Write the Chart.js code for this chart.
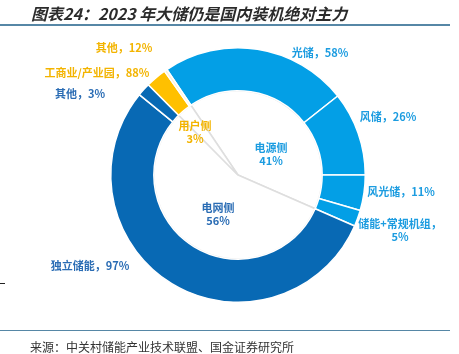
<!DOCTYPE html>
<html>
<head>
<meta charset="utf-8">
<script src="https://cdn.jsdelivr.net/npm/chart.js@4/dist/chart.umd.min.js"></script>
<style>
  body { margin: 0; background: #fff; }
  #wrap { position: relative; width: 459px; height: 354px; overflow: hidden; font-family: "Noto Sans CJK SC", sans-serif; }
  #title { position: absolute; left: 31px; top: 1px; font-size: 16px; font-weight: bold; font-style: italic; color: #2b2b2b; white-space: nowrap; }
  #topline { position: absolute; left: 0; top: 24px; width: 450px; height: 2px; background: #5687a6; }
  #botline { position: absolute; left: 0; top: 330px; width: 450px; height: 1px; background: #5687a6; }
  #source { position: absolute; left: 30px; top: 338px; font-size: 12px; color: #333; white-space: nowrap; }
  #tick { position: absolute; left: 0; top: 283px; width: 5px; height: 1px; background: #222; }
  #c { position: absolute; left: 0; top: 0; }
</style>
</head>
<body>
<div id="wrap">
  <canvas id="c" width="459" height="354"></canvas>
  <div id="title">图表24：2023 年大储仍是国内装机绝对主力</div>
  <div id="topline"></div>
  <div id="botline"></div>
  <div id="tick"></div>
  <div id="source">来源：中关村储能产业技术联盟、国金证券研究所</div>
</div>
<script>
// 内圈：三大应用场景占比（%）
const sides = ['电源侧', '电网侧', '用户侧'];
const sideShare = [41, 56, 3];

// 外圈：各场景内部构成（%）
const subNames = ['光储', '风储', '风光储', '储能+常规机组', '独立储能', '其他', '工商业/产业园', '其他'];
const subShare = [58, 26, 11, 5, 97, 3, 88, 12];
const subParent = [0, 0, 0, 0, 1, 1, 2, 2];

// 外圈扇区实际大小 = 父类占比 × 子类占比
const outerValues = subShare.map((v, i) => sideShare[subParent[i]] * v / 100);

const light = '#039fe6', dark = '#0869b4', gold = '#ffc000';
const outerColors = [light, light, light, light, dark, dark, gold, '#fbf1d2'];
const txtLight = '#1c9ce0', txtDark = '#2a6cb4', txtGold = '#f3b400';

// 标签相对圆心的偏移
const outerLabels = [
  { t: ['光储，58%'], dx: 82, dy: -122, c: txtLight },
  { t: ['风储，26%'], dx: 150, dy: -58, c: txtLight },
  { t: ['风光储，11%'], dx: 163, dy: 17, c: txtLight },
  { t: ['储能+常规机组，', '5%'], dx: 162, dy: 49, c: txtLight },
  { t: ['独立储能，97%'], dx: -148, dy: 91, c: txtDark },
  { t: ['其他，3%'], dx: -158, dy: -81, c: txtDark },
  { t: ['工商业/产业园，88%'], dx: -141, dy: -102, c: txtGold },
  { t: ['其他，12%'], dx: -114, dy: -127, c: txtGold }
];
const innerLabels = [
  { t: ['电源侧', '41%'], dx: 33, dy: -27, c: txtLight },
  { t: ['电网侧', '56%'], dx: -20, dy: 33, c: txtDark },
  { t: ['用户侧', '3%'], dx: -43, dy: -49, c: txtGold }
];

const labelPlugin = {
  id: 'labels',
  afterDatasetsDraw(chart) {
    const arc = chart.getDatasetMeta(0).data[0];
    const cx = arc.x, cy = arc.y;
    const ctx = chart.ctx;
    ctx.save();
    ctx.font = 'bold 11px "Noto Sans CJK SC", sans-serif';
    ctx.textAlign = 'center';
    ctx.textBaseline = 'middle';
    outerLabels.concat(innerLabels).forEach(l => {
      ctx.fillStyle = l.c;
      l.t.forEach((line, k) => ctx.fillText(line, cx + l.dx, cy + l.dy + k * 13));
    });
    ctx.restore();
  }
};

new Chart(document.getElementById('c'), {
  type: 'doughnut',
  data: {
    labels: subNames,
    datasets: [
      {
        data: outerValues,
        backgroundColor: outerColors,
        borderColor: '#ffffff',
        borderWidth: 1.5,
        weight: 43
      },
      {
        data: sideShare,
        backgroundColor: '#ffffff',
        borderColor: '#dedede',
        borderWidth: 1.5,
        weight: 84
      }
    ]
  },
  options: {
    responsive: false,
    animation: false,
    cutout: 0,
    rotation: -34,
    layout: { padding: { top: 47, bottom: 51, left: 110, right: 93 } },
    plugins: {
      legend: { display: false },
      tooltip: { enabled: false }
    }
  },
  plugins: [labelPlugin]
});
</script>
</body>
</html>
